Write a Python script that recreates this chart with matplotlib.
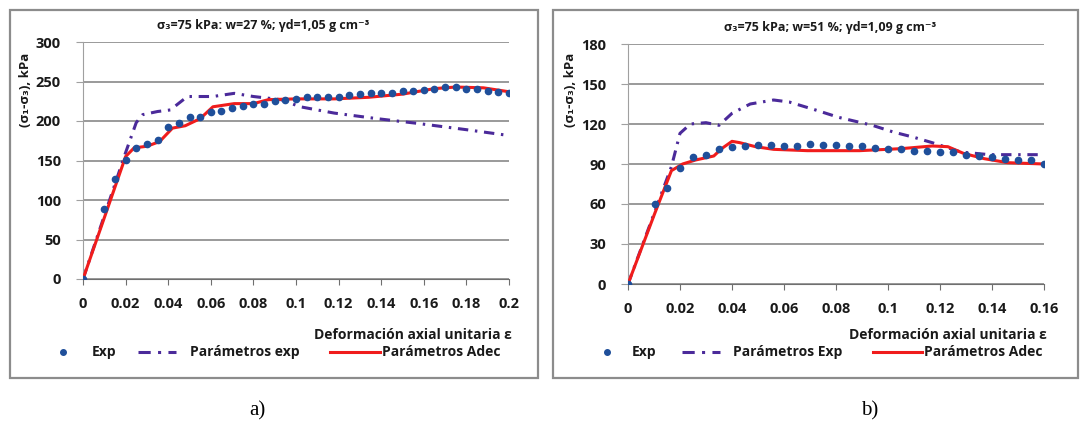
import matplotlib.pyplot as plt
from matplotlib.patches import Rectangle
from matplotlib.lines import Line2D

plt.rcParams['font.family'] = ['Open Sans', 'DejaVu Sans']

# ---- panel a) ----
a_exp_x = [0, 0.010, 0.015, 0.020, 0.025, 0.030, 0.035, 0.040, 0.045, 0.050, 0.055, 0.060,
           0.065, 0.070, 0.075, 0.080, 0.085, 0.090, 0.095, 0.100, 0.105, 0.110, 0.115,
           0.120, 0.125, 0.130, 0.135, 0.140, 0.145, 0.150, 0.155, 0.160, 0.165, 0.170,
           0.175, 0.180, 0.185, 0.190, 0.195, 0.200]
a_exp_y = [0, 88, 126, 151, 166, 171, 176, 192, 197, 205, 205, 211, 213, 216, 219, 221, 222,
           225, 227, 228, 230, 230, 231, 231, 233, 234, 235, 236, 236, 238, 238, 239, 240,
           243, 243, 241, 240, 238, 237, 236]
a_adec_x = [0, 0.020, 0.024, 0.030, 0.036, 0.042, 0.048, 0.055, 0.061, 0.071, 0.080, 0.087,
            0.100, 0.118, 0.134, 0.150, 0.165, 0.175, 0.188, 0.200]
a_adec_y = [0, 155, 166, 168, 174, 191, 194, 203, 218, 222, 222, 227, 228, 228, 230, 234,
            241, 243, 242, 237]
a_pexp_x = [0, 0.020, 0.025, 0.028, 0.035, 0.041, 0.049, 0.061, 0.071, 0.080, 0.093, 0.102,
            0.118, 0.138, 0.157, 0.180, 0.199]
a_pexp_y = [0, 160, 198, 208, 212, 214, 231, 231, 235, 231, 227, 218, 210, 203, 197, 189, 182]

# ---- panel b) ----
b_exp_x = [0, 0.0103, 0.015, 0.020, 0.025, 0.030, 0.035, 0.040, 0.045, 0.050, 0.055, 0.060,
           0.065, 0.070, 0.075, 0.080, 0.085, 0.090, 0.095, 0.100, 0.105, 0.110, 0.115,
           0.120, 0.125, 0.130, 0.135, 0.140, 0.145, 0.150, 0.155, 0.160]
b_exp_y = [0, 60, 72, 87, 95, 97, 101.5, 103, 103.5, 104, 104, 103.5, 103.5, 105, 104.5,
           104.5, 103.5, 103.5, 102, 101, 101, 100, 100, 99, 99, 97, 96, 95, 94, 93, 93, 90]
b_adec_x = [0, 0.0103, 0.0167, 0.021, 0.026, 0.033, 0.036, 0.040, 0.043, 0.049, 0.056, 0.069,
            0.089, 0.105, 0.117, 0.123, 0.129, 0.137, 0.146, 0.160]
b_adec_y = [0, 53, 85, 90, 93, 96, 101.5, 107, 106, 103, 101, 100, 100, 101.5, 103.5, 103,
            98, 94, 91, 90]
b_pexp_x = [0, 0.0167, 0.020, 0.024, 0.030, 0.035, 0.040, 0.047, 0.056, 0.062, 0.073, 0.081,
            0.094, 0.102, 0.110, 0.117, 0.128, 0.139, 0.152, 0.160]
b_pexp_y = [0, 88, 113, 120, 121, 119, 128, 135, 138, 136.5, 130, 125, 119, 114, 110, 106,
            99, 97, 97, 97]

W, H = 1083, 426
fig = plt.figure(figsize=(W / 100, H / 100), dpi=100)
fig.patch.set_facecolor('white')

BLUE = '#1f4f9a'
PURPLE = '#4b2a9a'
RED = '#f01c1c'
GRID = '#7f7f7f'
TXT = '#1a1a1a'
DASH = (3.4, 2.2, 0.8, 2.2)       # multiplied by lw
LEG_DASH = (4.0, 2.4, 1.0, 2.4)


def px(x0, y0, x1, y1):
    # pixel box (top-left origin) -> figure fraction rect
    return [x0 / W, 1 - y1 / H, (x1 - x0) / W, (y1 - y0) / H]


def panel(box, rect, title, tcx, tcy, ylab_x, ylab_y, xmax, xticks, xticklabels,
          ymax, ystep, data, leg_x, pexp_label):
    # outer frame
    fig.patches.append(Rectangle((box[0] / W, 1 - box[3] / H), (box[2] - box[0]) / W,
                                 (box[3] - box[1]) / H, transform=fig.transFigure,
                                 fill=False, edgecolor='#8c8c8c', lw=1.6))
    ax = fig.add_axes(px(*rect))
    ex, ey, ax_, ay_, px_, py_ = data
    ax.plot(px_, py_, color=PURPLE, lw=2.2, dashes=DASH, zorder=2)
    ax.plot(ax_, ay_, color=RED, lw=2.2, zorder=3)
    ax.plot(ex, ey, 'o', color=BLUE, ms=4.5, zorder=4)
    ax.set_xlim(0, xmax)
    ax.set_ylim(0, ymax)
    ax.set_xticks(xticks)
    ax.set_xticklabels(xticklabels)
    ax.set_yticks(list(range(0, ymax + 1, ystep)))
    ax.grid(axis='y', color=GRID, lw=1.1)
    ax.set_axisbelow(True)
    for s in ['top', 'right']:
        ax.spines[s].set_visible(False)
    ax.spines['left'].set_color('#a0a0a0')
    ax.spines['bottom'].set_color('#6f6f6f')
    ax.tick_params(axis='y', length=5, color='#a0a0a0', pad=11, labelsize=10.5,
                   labelcolor=TXT)
    ax.tick_params(axis='x', length=4, color='#6f6f6f', pad=9, labelsize=10.5,
                   labelcolor=TXT)
    for lab in ax.get_xticklabels() + ax.get_yticklabels():
        lab.set_fontweight('bold')
    fig.text(tcx / W, 1 - tcy / H, title, ha='center', va='center', fontsize=9,
             fontweight='bold', color=TXT)
    fig.text(ylab_x / W, 1 - ylab_y / H, '(σ₁-σ₃), kPa', rotation=90, ha='center',
             va='center', fontsize=9.5, fontweight='bold', color=TXT)
    fig.text(rect[2] / W + 0.003, 1 - 335 / H, 'Deformación axial unitaria ε', ha='right',
             va='center', fontsize=10, fontweight='bold', color=TXT)
    # legend row
    ly = 1 - 352 / H
    lx = leg_x
    fig.add_artist(Line2D([lx[0] / W], [ly], marker='o', color=BLUE, ms=4, lw=0))
    fig.text(lx[1] / W, ly, 'Exp', ha='left', va='center', fontsize=10,
             fontweight='bold', color=TXT)
    fig.add_artist(Line2D([lx[2] / W, lx[3] / W], [ly, ly], color=PURPLE, lw=2.2,
                          dashes=LEG_DASH))
    fig.text(lx[4] / W, ly, pexp_label, ha='left', va='center', fontsize=10,
             fontweight='bold', color=TXT)
    fig.add_artist(Line2D([lx[5] / W, lx[6] / W], [ly, ly], color=RED, lw=2.2))
    fig.text(lx[7] / W, ly, 'Parámetros Adec', ha='left', va='center', fontsize=10,
             fontweight='bold', color=TXT)
    return ax


panel((10, 10, 538, 378), (83, 42, 509, 279),
      'σ₃=75 kPa: w=27 %; γd=1,05 g cm⁻³', 263, 25, 26, 90,
      0.2, [0, 0.02, 0.04, 0.06, 0.08, 0.1, 0.12, 0.14, 0.16, 0.18, 0.2],
      ['0', '0.02', '0.04', '0.06', '0.08', '0.1', '0.12', '0.14', '0.16', '0.18', '0.2'],
      300, 50, (a_exp_x, a_exp_y, a_adec_x, a_adec_y, a_pexp_x, a_pexp_y),
      [63, 92, 138, 176, 190, 330, 380, 382], 'Parámetros exp')

panel((553, 10, 1078, 378), (628, 44, 1044, 284),
      'σ₃=75 kPa; w=51 %; γd=1,09 g cm⁻³', 830, 28, 571, 90,
      0.16, [0, 0.02, 0.04, 0.06, 0.08, 0.1, 0.12, 0.14, 0.16],
      ['0', '0.02', '0.04', '0.06', '0.08', '0.1', '0.12', '0.14', '0.16'],
      180, 30, (b_exp_x, b_exp_y, b_adec_x, b_adec_y, b_pexp_x, b_pexp_y),
      [607, 632, 682, 720, 733, 873, 922, 924], 'Parámetros Exp')

fig.text(257 / W, 1 - 411 / H, 'a)', ha='center', va='center', fontsize=15,
         family='Liberation Serif')
fig.text(870 / W, 1 - 411 / H, 'b)', ha='center', va='center', fontsize=15,
         family='Liberation Serif')

fig.savefig('out.png', dpi=100, facecolor='white')
